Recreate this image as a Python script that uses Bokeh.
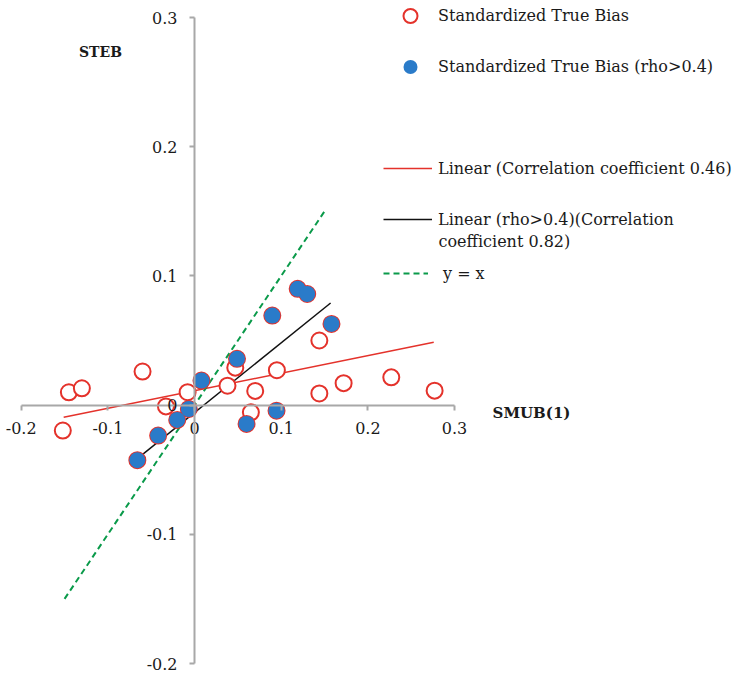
from bokeh.plotting import figure
from bokeh.models import (LinearAxis, FixedTicker, Range1d, Legend, LegendItem, Label)
from bokeh.embed import file_html
from bokeh.resources import INLINE

# ---- data ----
red_x = [-0.152, -0.145, -0.130, -0.060, -0.033, -0.008, 0.038, 0.047, 0.070, 0.065,
         0.095, 0.144, 0.144, 0.172, 0.227, 0.277]
red_y = [-0.0197, 0.0099, 0.013, 0.026, -0.001, 0.010, 0.015, 0.029, 0.011, -0.0056,
         0.027, 0.050, 0.009, 0.017, 0.0215, 0.0112]
blue_x = [-0.066, -0.042, -0.020, -0.0066, 0.008, 0.049, 0.0897, 0.119, 0.130, 0.158, 0.0946, 0.060]
blue_y = [-0.0426, -0.0236, -0.0115, -0.003, 0.019, 0.0358, 0.0693, 0.090, 0.086, 0.0628, -0.0043, -0.0146]
all_x = red_x + blue_x
all_y = red_y + blue_y

fit_all_x = [-0.151, 0.276]
fit_all_y = [-0.0094, 0.0486]
fit_rho_x = [-0.066, 0.157]
fit_rho_y = [-0.0414, 0.079]
ident_x = [-0.15, 0.15]
ident_y = [-0.15, 0.15]

ticks = [-0.2, -0.1, 0, 0.1, 0.2, 0.3]
tick_labels = ["-0.2", "-0.1", "0", "0.1", "0.2", "0.3"]

RED = "#E4322B"
BLUE = "#2A7BC9"
GREEN = "#0A9A4A"
TXT = "#1A1A1A"
FONT = "DejaVu Serif"

W, H = 741, 674
p = figure(width=W, height=H, output_backend="svg", toolbar_location=None,
           x_axis_location=None, y_axis_location=None,
           x_range=Range1d(-0.2239, 0.6311), y_range=Range1d(-0.20851, 0.31316),
           min_border=0, min_border_left=0, min_border_right=0,
           min_border_top=0, min_border_bottom=0)
p.grid.visible = False
p.outline_line_color = None

overrides = {t: l for t, l in zip(ticks, tick_labels)}

xa = LinearAxis(fixed_location=0, ticker=FixedTicker(ticks=ticks), bounds=(-0.2, 0.3))
ya = LinearAxis(fixed_location=0, ticker=FixedTicker(ticks=ticks), bounds=(-0.2, 0.3))
for ax in (xa, ya):
    ax.axis_line_color = "#A8A8A8"
    ax.axis_line_width = 2
    ax.major_tick_line_color = "#A8A8A8"
    ax.major_tick_line_width = 2
    ax.major_tick_out = 5
    ax.major_tick_in = 0
    ax.minor_tick_line_color = None
    ax.major_label_text_font = FONT
    ax.major_label_text_font_size = "16px"
    ax.major_label_text_color = TXT
    ax.major_label_overrides = overrides
xa.major_label_standoff = 12
ya.major_label_standoff = 12
p.add_layout(xa, "below")
p.add_layout(ya, "left")

r_fit_all = p.line(fit_all_x, fit_all_y, line_color=RED, line_width=1.5)
r_ident = p.line(ident_x, ident_y, line_color=GREEN, line_width=2, line_dash="6 4")
r_fit_rho = p.line(fit_rho_x, fit_rho_y, line_color="#111111", line_width=1.5)
r_red = p.scatter(all_x, all_y, marker="circle", size=16, fill_color="white",
                  line_color=RED, line_width=2)
r_blue = p.scatter(blue_x, blue_y, marker="circle", size=16, fill_color=BLUE,
                   line_color=None)

def mk_legend(items, x, y_center, glyph_w, glyph_h, standoff, pitch):
    n = len(items)
    spacing = pitch - glyph_h
    h = n * glyph_h + (n - 1) * spacing
    y_top = y_center - glyph_h / 2
    lg = Legend(items=items, location=(x, H - y_top - h), orientation="vertical",
                glyph_width=glyph_w, glyph_height=glyph_h, label_height=glyph_h,
                label_standoff=standoff, spacing=spacing, padding=0, margin=0,
                border_line_alpha=0, background_fill_alpha=0,
                label_text_font=FONT, label_text_font_size="16px",
                label_text_color=TXT)
    p.add_layout(lg, "center")
    return lg

mk_legend([LegendItem(label="Standardized True Bias", renderers=[r_red]),
           LegendItem(label="Standardized True Bias (rho>0.4)", renderers=[r_blue])],
          388, 15, 44, 35, 6, 51)
mk_legend([LegendItem(label="Linear (Correlation coefficient 0.46)", renderers=[r_fit_all]),
           LegendItem(label="Linear (rho>0.4)(Correlation", renderers=[r_fit_rho])],
          383, 168, 49, 20, 6, 51)
mk_legend([LegendItem(label="y = x", renderers=[r_ident])],
          383, 273, 45, 20, 15, 20)

p.add_layout(Label(x=438, y=H - 241, x_units="screen", y_units="screen",
                   text="coefficient 0.82)", text_font=FONT, text_font_size="16px",
                   text_color=TXT, text_align="left", text_baseline="middle"))
p.add_layout(Label(x=100, y=H - 51, x_units="screen", y_units="screen",
                   text="STEB", text_font=FONT, text_font_size="14px", text_font_style="bold",
                   text_color=TXT, text_align="center", text_baseline="middle"))
p.add_layout(Label(x=531, y=H - 412, x_units="screen", y_units="screen",
                   text="SMUB(1)", text_font=FONT, text_font_size="15px", text_font_style="bold",
                   text_color=TXT, text_align="center", text_baseline="middle"))

open("out.html", "w").write(file_html(p, INLINE))
